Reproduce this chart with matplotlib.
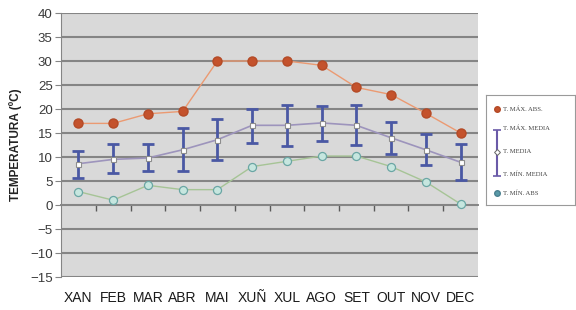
import matplotlib

matplotlib.use("Agg")
import matplotlib.pyplot as plt

plt.rcParams["font.family"] = ["Liberation Sans", "DejaVu Sans"]

# monthly temperatures (ºC)
months = ["XAN", "FEB", "MAR", "ABR", "MAI", "XUÑ", "XUL", "AGO", "SET", "OUT", "NOV", "DEC"]
t_max_abs = [17.0, 17.0, 19.0, 19.5, 30.0, 30.0, 30.0, 29.1, 24.5, 23.0, 19.1, 15.0]
t_max_media = [11.2, 12.8, 12.8, 16.1, 18.0, 20.0, 20.9, 20.7, 20.9, 17.3, 14.8, 12.8]
t_media = [8.6, 9.5, 9.8, 11.5, 13.6, 16.6, 16.6, 17.1, 16.6, 14.0, 11.5, 8.9]
t_min_media = [5.7, 6.6, 7.0, 7.0, 9.4, 12.9, 12.3, 13.4, 12.4, 10.7, 8.4, 5.2]
t_min_abs = [2.8, 1.0, 4.1, 3.2, 3.2, 8.0, 9.1, 10.2, 10.2, 8.0, 4.8, 0.2]

legend_labels = ["T. MÁX. ABS.", "T. MÁX. MEDIA", "T. MEDIA", "T. MÍN. MEDIA", "T. MÍN. ABS"]

RED, RED_LINE = "#c4522c", "#eb9a72"
BLUE = "#4a58a4"
MEDIA_LINE = "#9d94bc"
TEAL_FACE, TEAL_EDGE, GREEN_LINE = "#c6e6df", "#6aa6a4", "#a6c496"
GRID = "#858585"

fig = plt.figure(figsize=(5.76, 3.10), dpi=100)
ax = fig.add_axes([61 / 576, 1 - 277 / 310, 417 / 576, 264 / 310])
ax.set_facecolor("#d9d9d9")

x = list(range(len(months)))
ymin, ymax = -15, 40

ax.set_ylim(ymin, ymax)
ax.set_xlim(-0.5, len(months) - 0.5)
ax.set_yticks(range(ymin, ymax + 1, 5))
ax.grid(axis="y", color=GRID, lw=1.5)
ax.set_axisbelow(True)

ax.plot(x, t_max_abs, color=RED_LINE, lw=1, marker="o", ms=6.5,
        mfc=RED, mec="#b44a26", zorder=3)

err_lo = [m - lo for m, lo in zip(t_media, t_min_media)]
err_hi = [hi - m for m, hi in zip(t_media, t_max_media)]
ax.errorbar(x, t_media, yerr=[err_lo, err_hi], fmt="none", ecolor=BLUE,
            elinewidth=2, capsize=4.5, capthick=2, zorder=3)
ax.plot(x, t_media, color=MEDIA_LINE, lw=1.2, marker="s", ms=3.6,
        mfc="white", mec="#8d8d8d", mew=0.8, zorder=4)

ax.plot(x, t_min_abs, color=GREEN_LINE, lw=1, marker="o", ms=5.8,
        mfc=TEAL_FACE, mec=TEAL_EDGE, mew=0.9, zorder=3)

for side in ["top", "right", "bottom"]:
    ax.spines[side].set_visible(False)
ax.spines["left"].set_color(GRID)
ax.tick_params(axis="y", length=4, color=GRID, labelsize=9.5, labelcolor="#3a3a3a", pad=2)

ax.set_xticks(x)
ax.set_xticklabels(months, fontsize=10, color="#1a1a1a")
ax.tick_params(axis="x", length=0, pad=10)

# zero line with category ticks
zero = ax.secondary_xaxis((0 - ymin) / (ymax - ymin))
zero.spines["bottom"].set_color("#5a5a5a")
zero.spines["bottom"].set_linewidth(1.2)
zero.set_xticks([i + 0.5 for i in x[:-1]])
zero.set_xticklabels([])
zero.tick_params(length=4, color="#5a5a5a", width=1)

ax.set_ylabel("TEMPERATURA (ºC)", fontsize=8.5, fontweight="bold", color="#222222", labelpad=6)

# legend box
lax = fig.add_axes([486 / 576, 1 - 205 / 310, 89 / 576, 110 / 310])
lax.set_xlim(0, 1)
lax.set_ylim(205, 95)
lax.set_xticks([])
lax.set_yticks([])
lax.set_facecolor("white")
for s in lax.spines.values():
    s.set_color("#9a9a9a")
    s.set_linewidth(0.8)

rows = [109, 128, 152, 174, 193]
mx = 0.12
lax.plot([mx], [rows[0]], marker="o", ms=4, mfc=RED, mec="#b44a26", ls="none")
lax.errorbar([mx], [rows[2]], yerr=[[rows[3] - rows[2]], [rows[2] - rows[1]]],
             fmt="none", ecolor="#6a5aa8", elinewidth=1.5, capsize=3, capthick=1.2)
lax.plot([mx], [rows[2]], marker="D", ms=3, mfc="white", mec="#666666", mew=0.7, ls="none")
lax.plot([mx], [rows[4]], marker="o", ms=4, mfc="#5a9aa8", mec="#4a8090", ls="none")
for r, lbl in zip(rows, legend_labels):
    lax.text(0.19, r, lbl, fontsize=4.8, family=["Liberation Serif", "DejaVu Serif"],
             color="#444444", va="center", ha="left")

fig.savefig("out.png", dpi=100)
